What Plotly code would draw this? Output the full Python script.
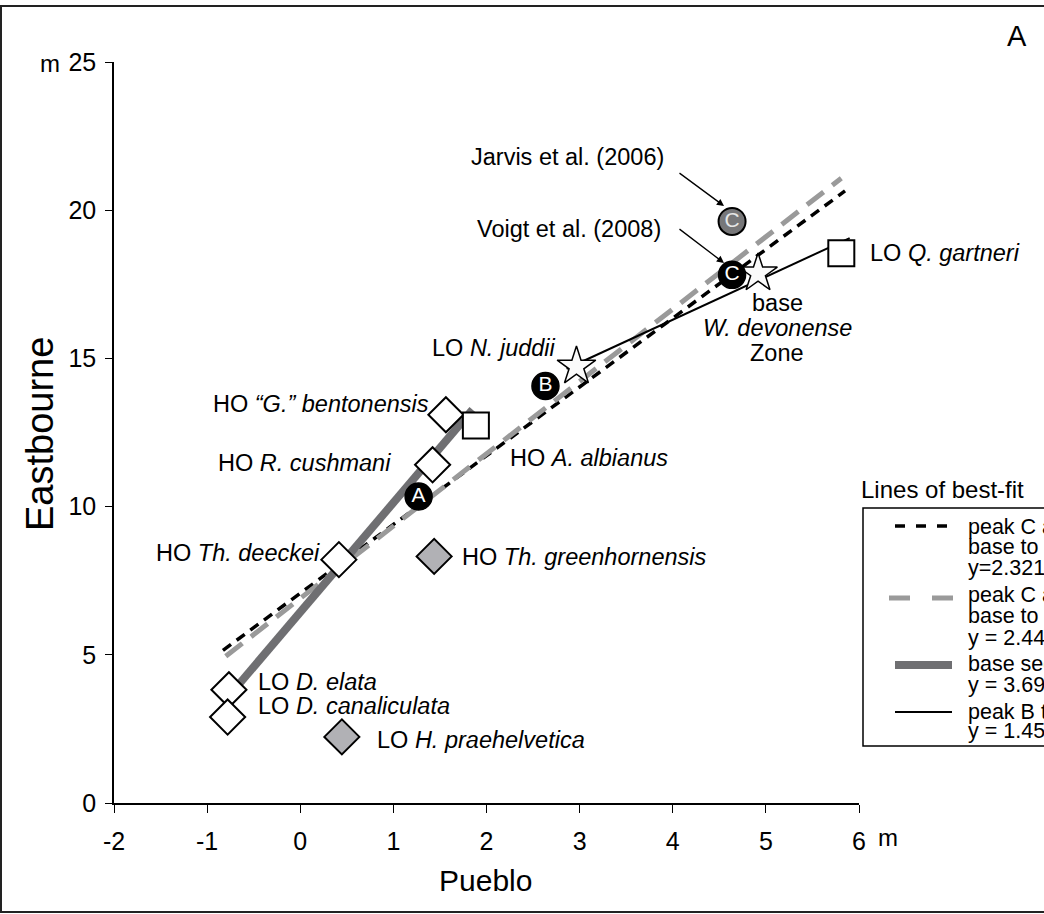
import plotly.graph_objects as go

# ---------------- data ----------------
# biostratigraphic events (Pueblo m, Eastbourne m)
white_diamond_x = [1.564, 1.421, 0.415, -0.766, -0.780]
white_diamond_y = [13.10, 11.41, 8.21, 3.82, 2.90]
white_diamond_lbl = ["HO <i>“G.” bentonensis</i>", "HO <i>R. cushmani</i>",
                     "HO <i>Th. deeckei</i>", "LO <i>D. elata</i>",
                     "LO <i>D. canaliculata</i>"]
gray_diamond_x = [1.438, 0.447]
gray_diamond_y = [8.32, 2.23]
gray_diamond_lbl = ["HO <i>Th. greenhornensis</i>", "LO <i>H. praehelvetica</i>"]
square_x = [1.886, 5.81]
square_y = [12.74, 18.55]
square_lbl = ["HO <i>A. albianus</i>", "LO <i>Q. gartneri</i>"]
star_x = [2.966, 4.916]
star_y = [14.73, 17.87]
star_lbl = ["LO <i>N. juddii</i>", "base <i>W. devonense</i> Zone"]
# carbon isotope peaks
peak_x = [1.271, 2.633, 4.637]
peak_y = [10.34, 14.07, 17.82]
peak_lbl = ["A", "B", "C"]
jarvis_x = [4.637]
jarvis_y = [19.62]
jarvis_lbl = ["C"]

# lines of best fit (end points)
fit1_x = [-0.83, 5.85]; fit1_y = [5.15, 20.65]   # peak C and base to top, y=2.3219x
fit2_x = [-0.80, 5.81]; fit2_y = [4.95, 21.08]   # y = 2.44x
fit3_x = [-0.75, 1.85]; fit3_y = [3.67, 13.27]   # base section, y = 3.692x
fit4_x = [2.86, 5.90];  fit4_y = [14.65, 19.06]  # peak B to top, y = 1.45x

legend_title = "Lines of best-fit"
legend_lines = [
    ["peak C and", "base to top", "y=2.3219x + 7.0778"],
    ["peak C and", "base to top", "y = 2.44x + 6.90"],
    ["base section", "y = 3.692x + 6.43"],
    ["peak B to top", "y = 1.45x + 10.5"],
]

x_ticks = [-2, -1, 0, 1, 2, 3, 4, 5, 6]
x_ticktext = ["-2", "-1", "0", "1", "2", "3", "4", "5", "6"]
y_ticks = [0, 5, 10, 15, 20, 25]

# ---------------- layout helpers ----------------
W, H = 1044, 914
L, R, T, B = 114, 185, 62, 111
PW, PH = W - L - R, H - T - B
def px(x): return (x - L) / PW
def py(y): return (H - B - y) / PH

FONT = "Liberation Sans, Arial, sans-serif"
fig = go.Figure()

# fit lines
fig.add_trace(go.Scatter(x=fit1_x, y=fit1_y, mode="lines",
                         line=dict(color="black", width=3.5, dash="10px,7px")))
fig.add_trace(go.Scatter(x=fit2_x, y=fit2_y, mode="lines",
                         line=dict(color="#9a9a9a", width=5, dash="21px,11px")))
fig.add_trace(go.Scatter(x=fit3_x, y=fit3_y, mode="lines",
                         line=dict(color="#6f6f72", width=8)))
fig.add_trace(go.Scatter(x=fit4_x, y=fit4_y, mode="lines",
                         line=dict(color="black", width=2)))

mk_line = dict(color="black", width=2)
fig.add_trace(go.Scatter(x=white_diamond_x, y=white_diamond_y, mode="markers",
                         marker=dict(symbol="diamond", size=27, color="white", line=mk_line)))
fig.add_trace(go.Scatter(x=gray_diamond_x, y=gray_diamond_y, mode="markers",
                         marker=dict(symbol="diamond", size=27, color="#b1b1b5", line=mk_line)))
fig.add_trace(go.Scatter(x=square_x, y=square_y, mode="markers",
                         marker=dict(symbol="square", size=26, color="white", line=mk_line)))
fig.add_trace(go.Scatter(x=star_x, y=star_y, mode="markers",
                         marker=dict(symbol="star", size=29, color="#fafafa",
                                     line=dict(color="black", width=1.5))))
fig.add_trace(go.Scatter(x=peak_x, y=peak_y, mode="markers+text", text=peak_lbl,
                         textposition="middle center",
                         textfont=dict(family=FONT, size=21, color="white"),
                         marker=dict(symbol="circle", size=27, color="black",
                                     line=dict(color="black", width=1.5))))
fig.add_trace(go.Scatter(x=jarvis_x, y=jarvis_y, mode="markers+text", text=jarvis_lbl,
                         textposition="middle center",
                         textfont=dict(family=FONT, size=21, color="#e6e6e6"),
                         marker=dict(symbol="circle", size=27, color="#777779",
                                     line=dict(color="black", width=2))))
for tr in fig.data:
    tr.cliponaxis = False
    tr.showlegend = False
    tr.hoverinfo = "skip"

ann = []
def label(text, x, y, xanchor="left", size=23.5):
    ann.append(dict(text=text, x=px(x), y=py(y), xref="paper", yref="paper",
                    xanchor=xanchor, yanchor="middle", showarrow=False,
                    font=dict(family=FONT, size=size, color="black")))

# point labels (pixel positions)
label(white_diamond_lbl[0], 431, 404, "right")
label(white_diamond_lbl[1], 393, 463, "right")
label(white_diamond_lbl[2], 322, 553, "right")
label(white_diamond_lbl[3], 256, 682)
label(white_diamond_lbl[4], 256, 706)
label(gray_diamond_lbl[0], 460, 557)
label(gray_diamond_lbl[1], 375, 740)
label(square_lbl[0], 508, 458)
label(square_lbl[1], 868, 253)
label(star_lbl[0], 558, 348, "right")
label("base", 777, 303, "center")
label("<i>W. devonense</i>", 777, 328, "center")
label("Zone", 777, 353, "center")
label("Jarvis et al. (2006)", 469, 157)
label("Voigt et al. (2008)", 475, 229)

# arrows (tail pixel -> head pixel)
for (x0, y0, x1, y1) in [(678, 172, 724, 206), (678, 228, 724, 263)]:
    ann.append(dict(x=px(x1), y=py(y1), xref="paper", yref="paper",
                    axref="pixel", ayref="pixel", ax=x0 - x1, ay=y0 - y1,
                    showarrow=True, arrowhead=2, arrowsize=1.1, arrowwidth=1.3,
                    arrowcolor="black", text=""))

# axis extras
label("m", 50, 63, "center", size=24)
label("m", 888, 837, "center", size=24)
label("A", 1017, 36, "center", size=29)
label("Pueblo", 485, 880, "center", size=30)
ann.append(dict(text="Eastbourne", x=px(40), y=py(434), xref="paper", yref="paper",
                textangle=-90, showarrow=False, xanchor="center", yanchor="middle",
                font=dict(family=FONT, size=38, color="black")))

# legend
label(legend_title, 859, 489, size=24)
line_rows = [[527, 547, 568], [595, 616, 638], [664, 685], [712, 731]]
for lines, ys in zip(legend_lines, line_rows):
    for t, yy in zip(lines, ys):
        label(t, 966, yy, size=21.5)

shapes = []
# figure frame
shapes.append(dict(type="rect", xref="paper", yref="paper",
                   x0=px(1), x1=px(1080), y0=py(912), y1=py(6),
                   line=dict(color="#222", width=2)))
# legend box
shapes.append(dict(type="rect", xref="paper", yref="paper",
                   x0=px(863), x1=px(1080), y0=py(746), y1=py(508),
                   line=dict(color="black", width=1.5)))
# legend samples
samples = [
    (526, 895, 948, dict(color="black", width=3.5, dash="10px,11px")),
    (598, 889, 953, dict(color="#9a9a9a", width=5, dash="21px,22px")),
    (665, 895, 952, dict(color="#6f6f72", width=8)),
    (712, 895, 952, dict(color="black", width=2)),
]
for yy, xa, xb, ln in samples:
    shapes.append(dict(type="line", xref="paper", yref="paper",
                       x0=px(xa), x1=px(xb), y0=py(yy), y1=py(yy), line=ln))

fig.update_layout(
    width=W, height=H, margin=dict(l=L, r=R, t=T, b=B),
    paper_bgcolor="white", plot_bgcolor="white",
    font=dict(family=FONT, color="black"),
    annotations=ann, shapes=shapes, showlegend=False,
    xaxis=dict(range=[-2, 6], tickvals=x_ticks, ticktext=x_ticktext,
               ticks="outside", ticklen=8,
               tickwidth=1.3, tickcolor="black", showline=True, linecolor="black",
               linewidth=1.5, showgrid=False, zeroline=False,
               tickfont=dict(family=FONT, size=25), ticklabelstandoff=7),
    yaxis=dict(range=[0, 25], tickvals=y_ticks, ticks="outside", ticklen=7,
               tickwidth=1.3, tickcolor="black", showline=True, linecolor="black",
               linewidth=1.5, showgrid=False, zeroline=False,
               tickfont=dict(family=FONT, size=25), ticklabelstandoff=4),
)
fig.write_html("out.html", config={"displayModeBar": False},
               post_script="document.body.style.margin='0';document.body.style.overflow='hidden';")
